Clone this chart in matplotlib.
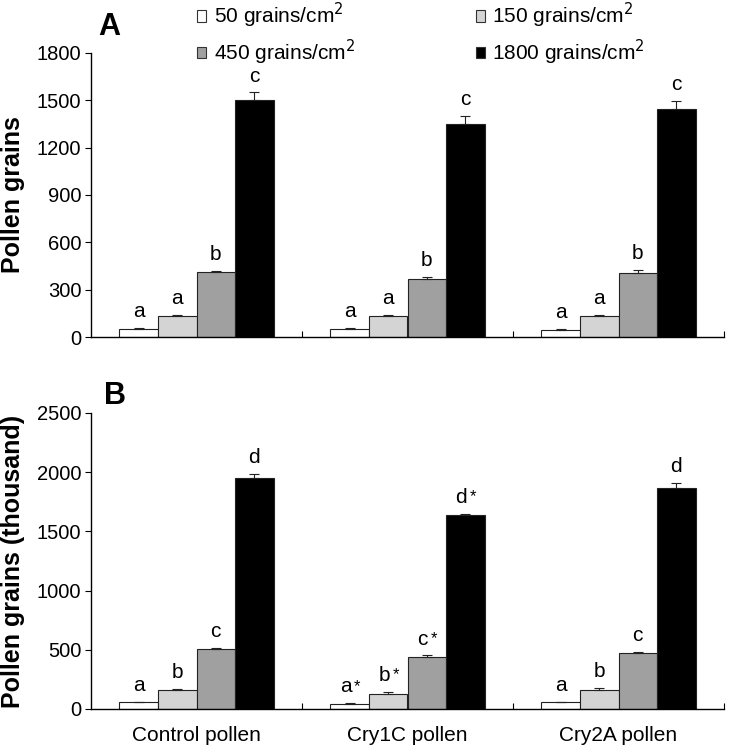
import matplotlib
matplotlib.use("Agg")
import matplotlib.pyplot as plt
import numpy as np

plt.rcParams['font.family'] = ['Liberation Sans', 'DejaVu Sans']

groups = ["Control pollen", "Cry1C pollen", "Cry2A pollen"]
densities = ["50 grains/cm$^2$", "150 grains/cm$^2$", "450 grains/cm$^2$", "1800 grains/cm$^2$"]
colors = ["white", "#d4d4d4", "#a0a0a0", "black"]

# panel A: pollen grains (rows = density, cols = group)
a_vals = [[50, 50, 44],
          [133, 133, 133],
          [410, 368, 406],
          [1500, 1348, 1442]]
a_err = [[5, 5, 5],
         [8, 8, 6],
         [8, 15, 20],
         [50, 55, 55]]
a_lett = [["a", "a", "a"],
          ["a", "a", "a"],
          ["b", "b", "b"],
          ["c", "c", "c"]]

# panel B: pollen grains (thousand)
b_vals = [[58, 42, 56],
          [160, 130, 160],
          [505, 442, 470],
          [1950, 1640, 1870]]
b_err = [[5, 5, 5],
         [10, 15, 18],
         [10, 10, 12],
         [35, 10, 40]]
b_lett = [["a", "a*", "a"],
          ["b", "b*", "b"],
          ["c", "c*", "c"],
          ["d", "d*", "d"]]

W, H = 731, 749
fig = plt.figure(figsize=(W / 100, H / 100), dpi=100)


def px_axes(x0, x1, ytop, ybot):
    return fig.add_axes([x0 / W, 1 - ybot / H, (x1 - x0) / W, (ybot - ytop) / H])


axA = px_axes(91, 724, 53, 337)
axB = px_axes(91, 724, 413, 709)

bw = 0.1825
x = np.arange(len(groups))


def draw(ax, vals, errs, letts, ymax, step, ylabel):
    for i in range(4):
        xs = x + (i - 1.5) * bw
        ax.bar(xs, vals[i], bw, color=colors[i], edgecolor="#222222", linewidth=0.8, zorder=2)
        ax.errorbar(xs, vals[i], yerr=[np.zeros(3), errs[i]], fmt="none",
                    ecolor="#222222", elinewidth=0.8, capsize=3.5, capthick=0.8, zorder=3)
        for j in range(3):
            top = vals[i][j] + errs[i][j]
            lab = letts[i][j]
            dx = -3 if len(lab) > 1 else 0
            ax.annotate(lab[0], (xs[j], top), xytext=(dx, 5), textcoords="offset points",
                        ha="center", va="bottom", fontsize=15)
            if len(lab) > 1:
                ax.annotate("*", (xs[j], top), xytext=(3, 7), textcoords="offset points",
                            ha="left", va="bottom", fontsize=12)
    ax.set_xlim(-0.5, 2.5)
    ax.set_ylim(0, ymax)
    ax.set_yticks(np.arange(0, ymax + 1, step))
    ax.spines["top"].set_visible(False)
    ax.spines["right"].set_visible(False)
    ax.spines["left"].set_linewidth(1.0)
    ax.spines["bottom"].set_linewidth(1.0)
    ax.tick_params(axis="y", direction="out", length=4, labelsize=14.5, pad=3)
    ax.set_xticks([0.5, 1.5, 2.5])
    ax.set_xticklabels([])
    ax.tick_params(axis="x", which="major", direction="in", length=4)
    ax.set_xticks(x, minor=True)
    ax.tick_params(axis="x", which="minor", length=0, labelsize=15, pad=12)
    ax.set_ylabel(ylabel, fontsize=18, fontweight="bold")
    ax.yaxis.set_label_coords(-0.104, 0.5)


draw(axA, a_vals, a_err, a_lett, 1800, 300, "Pollen grains")
draw(axB, b_vals, b_err, b_lett, 2500, 500, "Pollen grains (thousand)")
axA.set_xticklabels([], minor=True)
axB.set_xticklabels(groups, minor=True)

fig.text(98 / W, 1 - 35 / H, "A", fontsize=22, fontweight="bold", ha="left", va="baseline")
fig.text(104 / W, 1 - 404 / H, "B", fontsize=22, fontweight="bold", ha="left", va="baseline")

handles = [plt.Rectangle((0, 0), 1, 1, facecolor=c, edgecolor="#333333", linewidth=0.8) for c in colors]
order = [0, 2, 1, 3]
fig.legend([handles[k] for k in order], [densities[k] for k in order], ncol=2,
           loc="upper left", bbox_to_anchor=(197 / W, 1 - 1 / H), frameon=False,
           fontsize=15, handlelength=0.45, handleheight=0.5, handletextpad=0.35,
           columnspacing=5.8, labelspacing=0.35, borderaxespad=0, borderpad=0)

fig.savefig("out.png", dpi=100)
